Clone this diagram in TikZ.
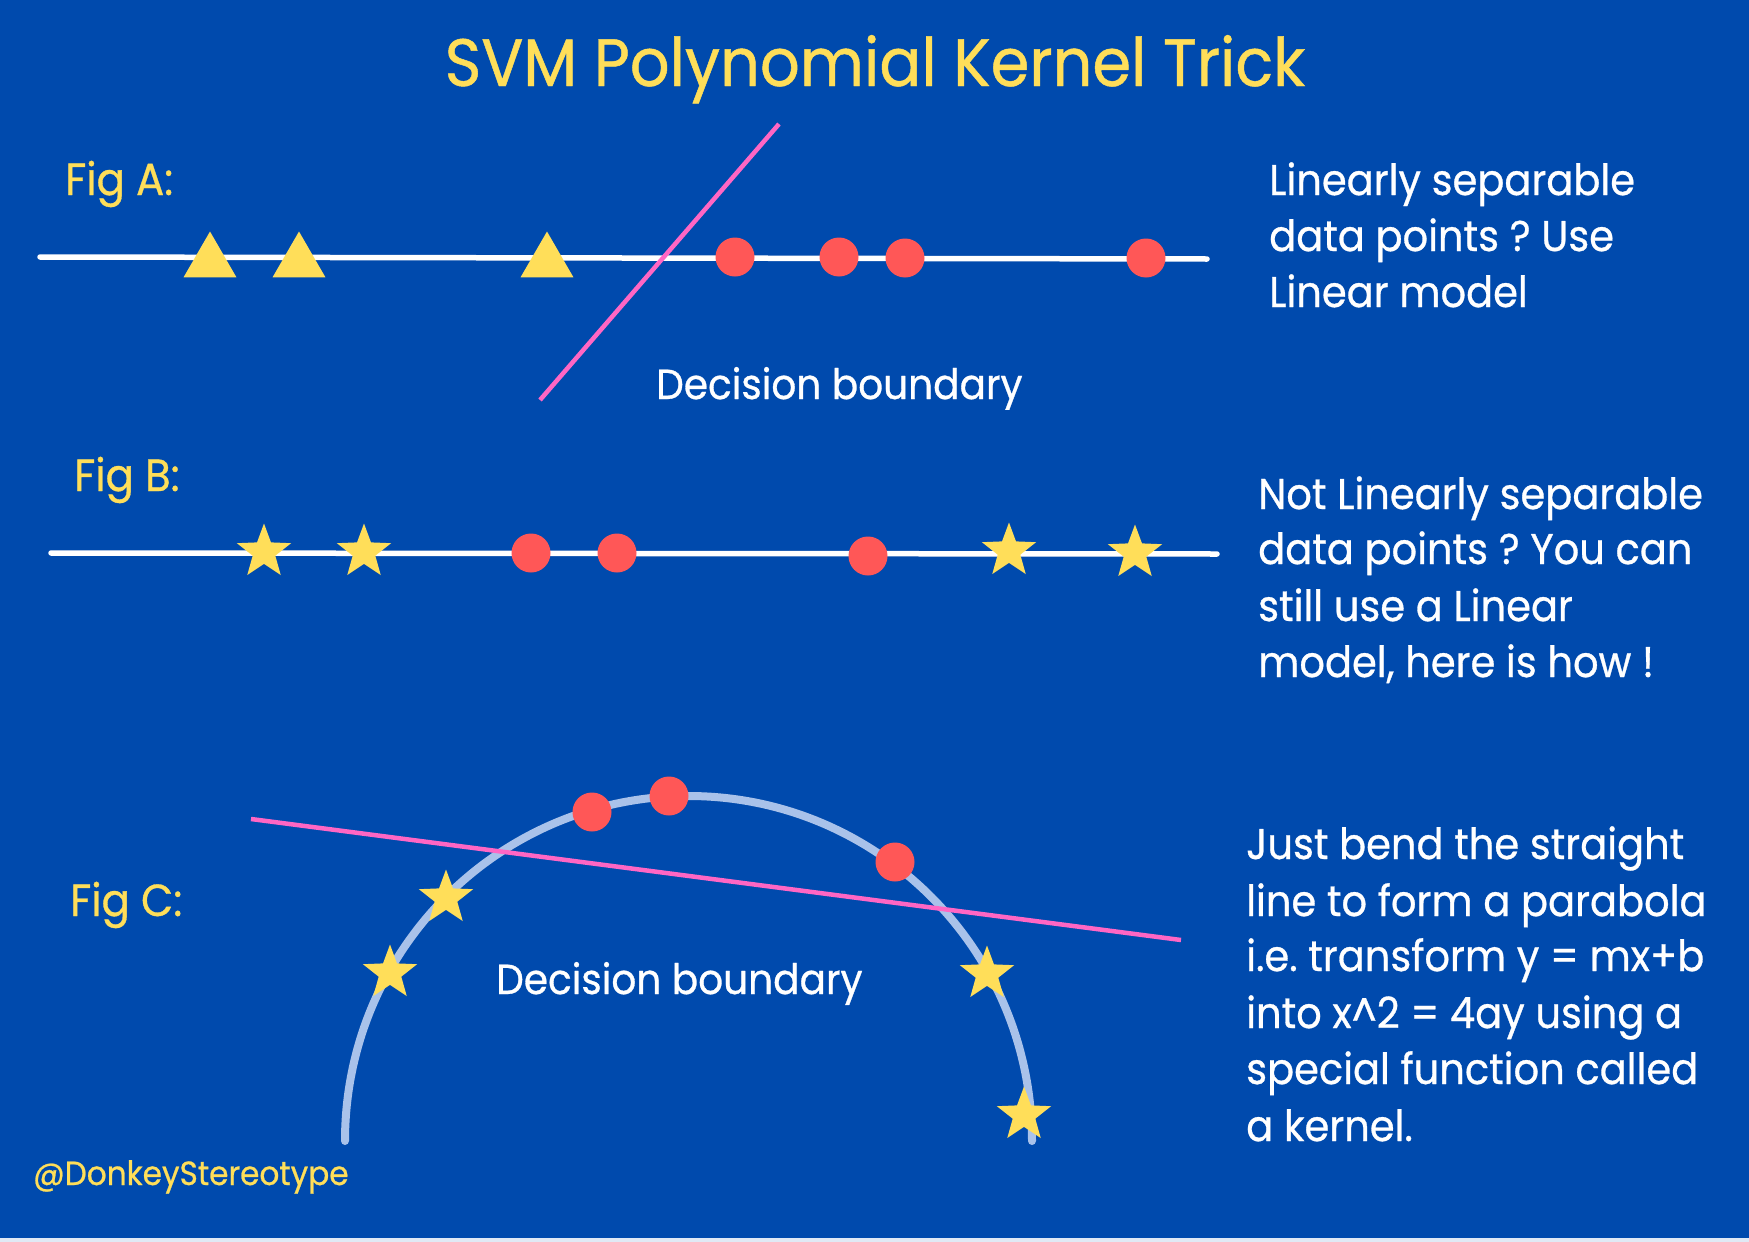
\documentclass[tikz,border=0pt]{standalone}
\usepackage{fontspec}
\setmainfont{Poppins}[FakeStretch=0.93, FakeBold=0.7]
\usetikzlibrary{shapes.geometric}
\definecolor{bgblue}{HTML}{004AAD}
\definecolor{cyellow}{HTML}{FFDE59}
\definecolor{cred}{HTML}{FF5757}
\definecolor{cpink}{HTML}{FF66C4}
\definecolor{carc}{HTML}{A9C2EA}
\tikzset{
  axisline/.style={white, line width=5.5pt, line cap=round},
  boundary/.style={cpink, line width=4.5pt},
  redpt/.style={circle, fill=cred, minimum size=39pt, inner sep=0pt},
  starpt/.style={star, star points=5, star point ratio=2.4, fill=cyellow, minimum size=57pt, inner sep=0pt},
  tript/.style={regular polygon, regular polygon sides=3, fill=cyellow, minimum size=61pt, inner sep=0pt},
  figlabel/.style={anchor=base west, text=cyellow, font=\fontsize{45}{52}\selectfont, inner sep=0pt},
  bodytext/.style={anchor=base west, text=white, font=\fontsize{43}{56}\selectfont, inner sep=0pt, align=left},
  dbtext/.style={anchor=base west, text=white, font=\fontsize{42}{56}\selectfont, inner sep=0pt},
}
\begin{document}
\frenchspacing
\begin{tikzpicture}[x=1pt, y=-1pt]
\fill[bgblue] (0,0) rectangle (1749,1242);
\fill[white!88!bgblue] (0,1238) rectangle (1749,1242);
\useasboundingbox (0,0) rectangle (1749,1242);

% Title
\node[anchor=base, text=cyellow, font=\fontsize{67}{80}\selectfont, inner sep=0pt] (title) at (875,86) {SVM Polynomial Kernel Trick};

% ---------- Fig A ----------
\node[figlabel] (figA) at (65,195) {Fig A:};
\coordinate (aL) at (40,257);
\coordinate (aR) at (1207,259);
\draw[axisline] (aL) -- (aR);
\node[tript] (a1) at (210,262) {};
\node[tript] (a2) at (299,262) {};
\node[tript] (a3) at (547,262) {};
\node[redpt] (a4) at (735,257) {};
\node[redpt] (a5) at (839,257) {};
\node[redpt] (a6) at (905,258) {};
\node[redpt] (a7) at (1146,258) {};
\coordinate (bA1) at (779,124);
\coordinate (bA2) at (540,400);
\draw[boundary] (bA1) -- (bA2);
\node[dbtext] (dbA) at (656,399) {Decision boundary};
\node[bodytext] (txtA1) at (1269,195) {Linearly separable};
\node[bodytext] (txtA2) at (1269,251) {data points ? Use};
\node[bodytext] (txtA3) at (1269,307) {Linear model};

% ---------- Fig B ----------
\node[figlabel] (figB) at (74,491) {Fig B:};
\coordinate (bL) at (51,553);
\coordinate (bR) at (1217,554);
\draw[axisline] (bL) -- (bR);
\node[starpt] (b1) at (264,552) {};
\node[starpt] (b2) at (364,552) {};
\node[redpt] (b3) at (531,553) {};
\node[redpt] (b4) at (617,553) {};
\node[redpt] (b5) at (868,556) {};
\node[starpt] (b6) at (1009,551) {};
\node[starpt] (b7) at (1135,553) {};
\node[bodytext] (txtB1) at (1258,509) {Not Linearly separable};
\node[bodytext] (txtB2) at (1258,564) {data points ? You can};
\node[bodytext] (txtB3) at (1258,621) {still use a Linear};
\node[bodytext] (txtB4) at (1258,677) {model, here is how !};

% ---------- Fig C ----------
\node[figlabel] (figC) at (70,916) {Fig C:};
\coordinate (arcL) at (345,1141);
\draw[carc, line width=8pt, line cap=round] (arcL) arc[start angle=180, end angle=0, x radius=343.5pt, y radius=345pt];
\node[redpt] (c1) at (592,812) {};
\node[redpt] (c2) at (669,796) {};
\node[redpt] (c3) at (895,862) {};
\node[starpt] (c4) at (446,898) {};
\node[starpt] (c5) at (390,973) {};
\node[starpt] (c6) at (987,974) {};
\node[starpt] (c7) at (1024,1115) {};
\coordinate (bC1) at (251,819);
\coordinate (bC2) at (1181,940);
\draw[boundary] (bC1) -- (bC2);
\node[dbtext] (dbC) at (496,994) {Decision boundary};
\node[bodytext] (txtC1) at (1246,859) {Just bend the straight};
\node[bodytext] (txtC2) at (1246,916) {line to form a parabola};
\node[bodytext] (txtC3) at (1246,971) {i.e. transform y = mx+b};
\node[bodytext] (txtC4) at (1246,1028) {into x\^{}2 = 4ay using a};
\node[bodytext] (txtC5) at (1246,1084) {special function called};
\node[bodytext] (txtC6) at (1246,1141) {a kernel.};

\node[anchor=base west, text=cyellow, font=\fontsize{33.5}{40}\selectfont, inner sep=0pt] (handle) at (33,1185) {@DonkeyStereotype};
\end{tikzpicture}
\end{document}
